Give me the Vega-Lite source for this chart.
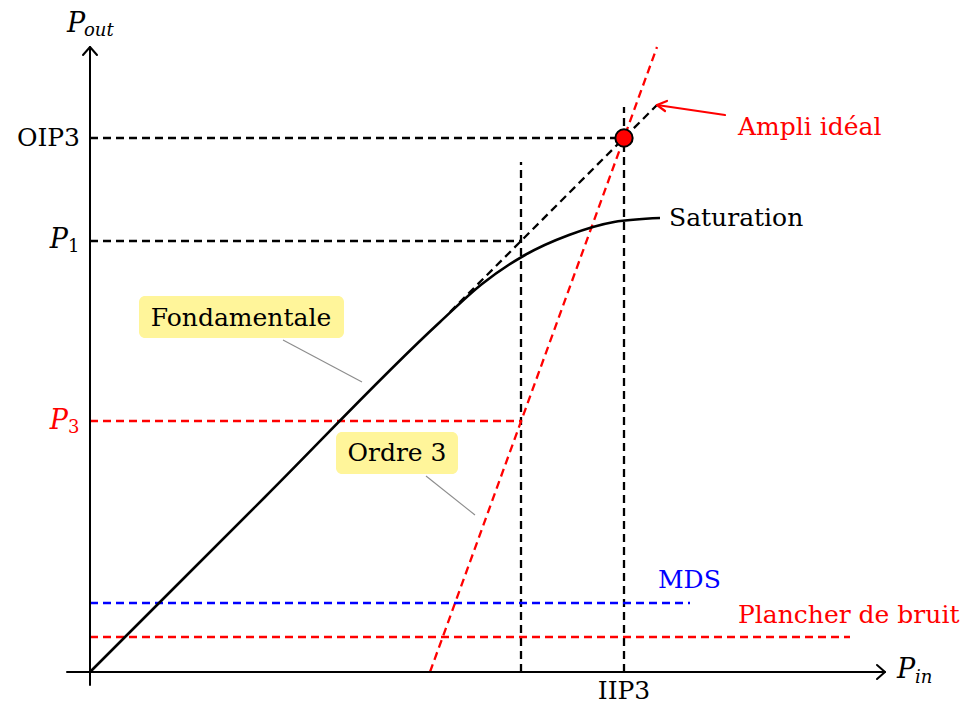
{
  "$schema": "https://vega.github.io/schema/vega-lite/v6.json",
  "width": 965,
  "height": 705,
  "autosize": {"type": "none"},
  "padding": 0,
  "background": "white",
  "config": {"view": {"stroke": null}, "text": {"font": "DejaVu Serif"}},
  "datasets": {
    "paths": [
      {"id": "xaxis", "kind": "axis", "o": 0, "pin": -23, "pout": 0},
      {"id": "xaxis", "kind": "axis", "o": 1, "pin": 795, "pout": 0},
      {"id": "yaxis", "kind": "axis", "o": 0, "pin": 0, "pout": -13},
      {"id": "yaxis", "kind": "axis", "o": 1, "pin": 0, "pout": 625},
      {"id": "xhead", "kind": "axis", "o": 0, "pin": 787, "pout": 7},
      {"id": "xhead", "kind": "axis", "o": 1, "pin": 795, "pout": 0},
      {"id": "xhead", "kind": "axis", "o": 2, "pin": 787, "pout": -7},
      {"id": "yhead", "kind": "axis", "o": 0, "pin": -7, "pout": 617},
      {"id": "yhead", "kind": "axis", "o": 1, "pin": 0, "pout": 625},
      {"id": "yhead", "kind": "axis", "o": 2, "pin": 7, "pout": 617},
      {"id": "fund", "kind": "fund", "o": 0, "pin": 0, "pout": 0},
      {"id": "fund", "kind": "fund", "o": 1, "pin": 175, "pout": 175},
      {"id": "fund", "kind": "fund", "o": 2, "pin": 350, "pout": 350},
      {"id": "fund", "kind": "fund", "o": 3, "pin": 392, "pout": 388},
      {"id": "fund", "kind": "fund", "o": 4, "pin": 435, "pout": 417},
      {"id": "fund", "kind": "fund", "o": 5, "pin": 479, "pout": 437},
      {"id": "fund", "kind": "fund", "o": 6, "pin": 524, "pout": 450},
      {"id": "fund", "kind": "fund", "o": 7, "pin": 570, "pout": 454},
      {"id": "ideal", "kind": "guide", "o": 0, "pin": 360, "pout": 360},
      {"id": "ideal", "kind": "guide", "o": 1, "pin": 567, "pout": 567},
      {"id": "oip3", "kind": "guide", "o": 0, "pin": 0, "pout": 534},
      {"id": "oip3", "kind": "guide", "o": 1, "pin": 534, "pout": 534},
      {"id": "iip3", "kind": "guide", "o": 0, "pin": 534, "pout": 0},
      {"id": "iip3", "kind": "guide", "o": 1, "pin": 534, "pout": 565},
      {"id": "p1", "kind": "guide", "o": 0, "pin": 0, "pout": 431},
      {"id": "p1", "kind": "guide", "o": 1, "pin": 431, "pout": 431},
      {"id": "v1", "kind": "guide", "o": 0, "pin": 431, "pout": 0},
      {"id": "v1", "kind": "guide", "o": 1, "pin": 431, "pout": 510},
      {"id": "ord3", "kind": "redguide", "o": 0, "pin": 340, "pout": 0},
      {"id": "ord3", "kind": "redguide", "o": 1, "pin": 567, "pout": 625},
      {"id": "p3", "kind": "redguide", "o": 0, "pin": 0, "pout": 251},
      {"id": "p3", "kind": "redguide", "o": 1, "pin": 431, "pout": 251},
      {"id": "noise", "kind": "redguide", "o": 0, "pin": 0, "pout": 35},
      {"id": "noise", "kind": "redguide", "o": 1, "pin": 760, "pout": 35},
      {"id": "mds", "kind": "mds", "o": 0, "pin": 0, "pout": 69},
      {"id": "mds", "kind": "mds", "o": 1, "pin": 600, "pout": 69},
      {"id": "arrow", "kind": "arrow", "o": 0, "pin": 635, "pout": 557},
      {"id": "arrow", "kind": "arrow", "o": 1, "pin": 567, "pout": 567},
      {"id": "ahead", "kind": "arrow", "o": 0, "pin": 577, "pout": 571},
      {"id": "ahead", "kind": "arrow", "o": 1, "pin": 567, "pout": 567},
      {"id": "ahead", "kind": "arrow", "o": 2, "pin": 575, "pout": 561},
      {"id": "lead1", "kind": "leader", "o": 0, "pin": 193, "pout": 332},
      {"id": "lead1", "kind": "leader", "o": 1, "pin": 272, "pout": 290},
      {"id": "lead2", "kind": "leader", "o": 0, "pin": 336, "pout": 196},
      {"id": "lead2", "kind": "leader", "o": 1, "pin": 385, "pout": 157}
    ],
    "boxes": [
      {"name": "Fondamentale", "x0": 49, "x1": 254, "y0": 334, "y1": 376},
      {"name": "Ordre 3", "x0": 246, "x1": 368, "y0": 198, "y1": 240}
    ],
    "labels": [
      {"text": "OIP3", "grp": "right", "pin": -10, "pout": 534},
      {"text": "IIP3", "grp": "center", "pin": 534, "pout": -19},
      {"text": "Fondamentale", "grp": "center", "pin": 151, "pout": 354},
      {"text": "Ordre 3", "grp": "center", "pin": 307, "pout": 219},
      {"text": "Saturation", "grp": "left", "pin": 579, "pout": 454},
      {"text": "Ampli idéal", "grp": "redleft", "pin": 648, "pout": 545},
      {"text": "Plancher de bruit", "grp": "redleft", "pin": 648, "pout": 57},
      {"text": "MDS", "grp": "blueleft", "pin": 568, "pout": 92},
      {"text": "P", "grp": "pright", "pin": -22, "pout": 432},
      {"text": "P", "grp": "redpright", "pin": -22, "pout": 251},
      {"text": "P", "grp": "pleft", "pin": 807, "pout": 2},
      {"text": "P", "grp": "pleft", "pin": -23, "pout": 648},
      {"text": "1", "grp": "sub", "pin": -22, "pout": 425},
      {"text": "3", "grp": "redsub", "pin": -22, "pout": 244},
      {"text": "in", "grp": "isub", "pin": 825, "pout": -6},
      {"text": "out", "grp": "isub", "pin": -6, "pout": 641}
    ],
    "ip3": [{"pin": 534, "pout": 534}]
  },
  "encoding": {
    "x": {"field": "pin", "type": "quantitative", "scale": {"domain": [-90, 875], "nice": false, "zero": false}, "axis": null},
    "y": {"field": "pout", "type": "quantitative", "scale": {"domain": [-33, 672], "nice": false, "zero": false}, "axis": null}
  },
  "layer": [
    {
      "data": {"name": "boxes"},
      "mark": {"type": "rect", "fill": "#fff59a", "cornerRadius": 6},
      "encoding": {
        "x": {"field": "x0", "type": "quantitative"},
        "x2": {"field": "x1"},
        "y": {"field": "y0", "type": "quantitative"},
        "y2": {"field": "y1"}
      }
    },
    {
      "data": {"name": "paths"},
      "transform": [{"filter": "datum.kind === 'leader'"}],
      "mark": {"type": "line", "stroke": "#8c8c8c", "strokeWidth": 1.1},
      "encoding": {"detail": {"field": "id"}, "order": {"field": "o"}}
    },
    {
      "data": {"name": "paths"},
      "transform": [{"filter": "datum.kind === 'guide'"}],
      "mark": {"type": "line", "stroke": "black", "strokeWidth": 2.3, "strokeDash": [8, 5]},
      "encoding": {"detail": {"field": "id"}, "order": {"field": "o"}}
    },
    {
      "data": {"name": "paths"},
      "transform": [{"filter": "datum.kind === 'redguide'"}],
      "mark": {"type": "line", "stroke": "#ff0000", "strokeWidth": 2.3, "strokeDash": [8, 5]},
      "encoding": {"detail": {"field": "id"}, "order": {"field": "o"}}
    },
    {
      "data": {"name": "paths"},
      "transform": [{"filter": "datum.kind === 'mds'"}],
      "mark": {"type": "line", "stroke": "#0000ff", "strokeWidth": 2.3, "strokeDash": [8, 5]},
      "encoding": {"detail": {"field": "id"}, "order": {"field": "o"}}
    },
    {
      "data": {"name": "paths"},
      "transform": [{"filter": "datum.kind === 'axis'"}],
      "mark": {"type": "line", "stroke": "black", "strokeWidth": 2, "strokeCap": "round", "strokeJoin": "round"},
      "encoding": {"detail": {"field": "id"}, "order": {"field": "o"}}
    },
    {
      "data": {"name": "paths"},
      "transform": [{"filter": "datum.kind === 'fund'"}],
      "mark": {"type": "line", "stroke": "black", "strokeWidth": 2.6, "interpolate": "monotone"},
      "encoding": {"detail": {"field": "id"}, "order": {"field": "o"}}
    },
    {
      "data": {"name": "paths"},
      "transform": [{"filter": "datum.kind === 'arrow'"}],
      "mark": {"type": "line", "stroke": "#ff0000", "strokeWidth": 2.2, "strokeCap": "round", "strokeJoin": "round"},
      "encoding": {"detail": {"field": "id"}, "order": {"field": "o"}}
    },
    {
      "data": {"name": "ip3"},
      "mark": {"type": "point", "shape": "circle", "filled": true, "fill": "#ff0000", "stroke": "black", "strokeWidth": 2, "size": 300, "opacity": 1}
    },
    {
      "data": {"name": "labels"},
      "transform": [{"filter": "datum.grp === 'right'"}],
      "mark": {"type": "text", "align": "right", "baseline": "middle", "fontSize": 25, "color": "black"},
      "encoding": {"text": {"field": "text"}}
    },
    {
      "data": {"name": "labels"},
      "transform": [{"filter": "datum.grp === 'center'"}],
      "mark": {"type": "text", "align": "center", "baseline": "middle", "fontSize": 25, "color": "black"},
      "encoding": {"text": {"field": "text"}}
    },
    {
      "data": {"name": "labels"},
      "transform": [{"filter": "datum.grp === 'left'"}],
      "mark": {"type": "text", "align": "left", "baseline": "middle", "fontSize": 25, "color": "black"},
      "encoding": {"text": {"field": "text"}}
    },
    {
      "data": {"name": "labels"},
      "transform": [{"filter": "datum.grp === 'redleft'"}],
      "mark": {"type": "text", "align": "left", "baseline": "middle", "fontSize": 25, "color": "#ff0000"},
      "encoding": {"text": {"field": "text"}}
    },
    {
      "data": {"name": "labels"},
      "transform": [{"filter": "datum.grp === 'blueleft'"}],
      "mark": {"type": "text", "align": "left", "baseline": "middle", "fontSize": 25, "color": "#0000ff"},
      "encoding": {"text": {"field": "text"}}
    },
    {
      "data": {"name": "labels"},
      "transform": [{"filter": "datum.grp === 'pright'"}],
      "mark": {"type": "text", "align": "right", "baseline": "middle", "fontSize": 27, "fontStyle": "italic", "color": "black"},
      "encoding": {"text": {"field": "text"}}
    },
    {
      "data": {"name": "labels"},
      "transform": [{"filter": "datum.grp === 'redpright'"}],
      "mark": {"type": "text", "align": "right", "baseline": "middle", "fontSize": 27, "fontStyle": "italic", "color": "#ff0000"},
      "encoding": {"text": {"field": "text"}}
    },
    {
      "data": {"name": "labels"},
      "transform": [{"filter": "datum.grp === 'pleft'"}],
      "mark": {"type": "text", "align": "left", "baseline": "middle", "fontSize": 27, "fontStyle": "italic", "color": "black"},
      "encoding": {"text": {"field": "text"}}
    },
    {
      "data": {"name": "labels"},
      "transform": [{"filter": "datum.grp === 'sub'"}],
      "mark": {"type": "text", "align": "left", "baseline": "middle", "fontSize": 18, "color": "black"},
      "encoding": {"text": {"field": "text"}}
    },
    {
      "data": {"name": "labels"},
      "transform": [{"filter": "datum.grp === 'redsub'"}],
      "mark": {"type": "text", "align": "left", "baseline": "middle", "fontSize": 18, "color": "#ff0000"},
      "encoding": {"text": {"field": "text"}}
    },
    {
      "data": {"name": "labels"},
      "transform": [{"filter": "datum.grp === 'isub'"}],
      "mark": {"type": "text", "align": "left", "baseline": "middle", "fontSize": 18, "fontStyle": "italic", "color": "black"},
      "encoding": {"text": {"field": "text"}}
    }
  ]
}
